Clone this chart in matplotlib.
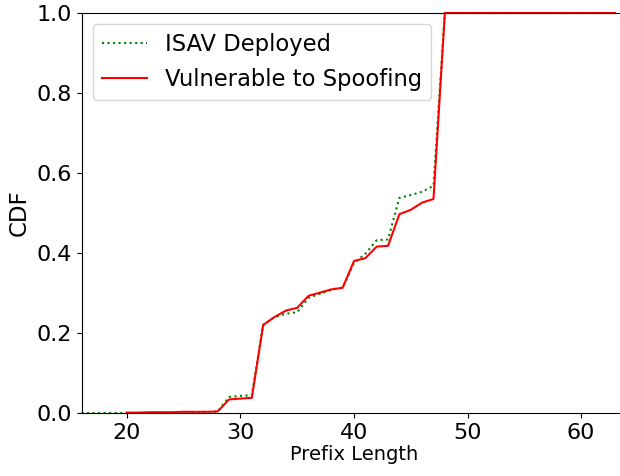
import numpy as np
import matplotlib.pyplot as plt

# Prefix length CDFs
isav_x = list(range(16, 64))
isav_y = [0.0] * 12 + [0.004, 0.040, 0.043, 0.044, 0.220, 0.240, 0.248, 0.252,
                       0.288, 0.298, 0.308, 0.314, 0.375, 0.398, 0.432, 0.434,
                       0.538, 0.545, 0.553, 0.568] + [1.0] * 16

vuln_x = list(range(20, 64))
vuln_y = [0.001, 0.001, 0.002, 0.002, 0.002, 0.003, 0.003, 0.003,
          0.004, 0.034, 0.036, 0.038, 0.220, 0.240, 0.256, 0.263,
          0.293, 0.301, 0.309, 0.313, 0.380, 0.387, 0.416, 0.418,
          0.497, 0.508, 0.526, 0.535] + [1.0] * 16

fig = plt.figure(figsize=(6.2, 4.76), dpi=100)
ax = fig.add_axes([81.5 / 620, 63 / 476, 545 / 620, 400 / 476])

ax.plot(isav_x, isav_y, ':', color='green', linewidth=1.5,
        label='ISAV Deployed', clip_on=False)
ax.plot(vuln_x, vuln_y, '-', color='red', linewidth=1.5,
        label='Vulnerable to Spoofing', clip_on=False)

ax.set_xlim(16, 64)
ax.set_ylim(0, 1.0)
ax.set_xticks([20, 30, 40, 50, 60])
ax.spines['right'].set_visible(False)
ax.tick_params(labelsize=16)
ax.set_xlabel('Prefix Length', fontsize=14, labelpad=2)
ax.set_ylabel('CDF', fontsize=16.5)
ax.legend(loc='upper left', fontsize=16.3)

fig.savefig('out.png', dpi=100)
